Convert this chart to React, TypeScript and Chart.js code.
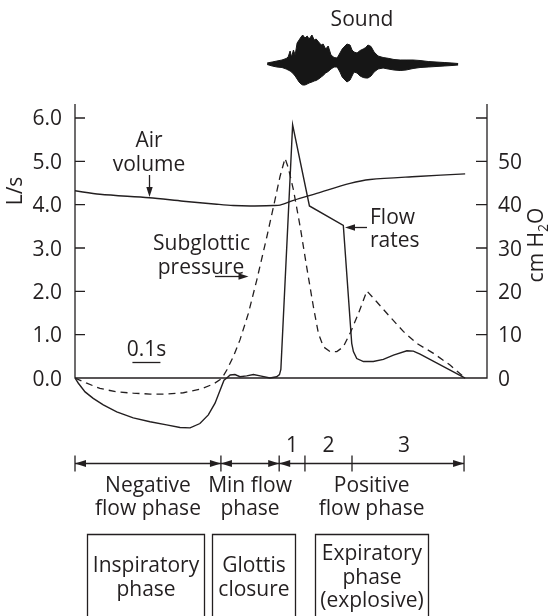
import React, { useEffect, useRef } from "react";
import { Chart, registerables } from "chart.js";

Chart.register(...registerables);

// ---------------- data (time in seconds) ----------------
const flowTime = [0, 0.012, 0.036, 0.065, 0.101, 0.149, 0.208, 0.268, 0.327, 0.375, 0.411, 0.446, 0.476, 0.5, 0.518, 0.532, 0.542, 0.554, 0.571, 0.589, 0.613, 0.637, 0.661, 0.696, 0.72, 0.73, 0.735, 0.777, 0.837, 0.958, 0.988, 0.994, 1.006, 1.03, 1.065, 1.101, 1.137, 1.185, 1.208, 1.232, 1.393];
const flowRate = [0, -0.12, -0.32, -0.47, -0.62, -0.78, -0.92, -1.01, -1.08, -1.14, -1.15, -1.05, -0.85, -0.58, -0.28, -0.05, 0, 0.07, 0.08, 0.03, 0.05, 0.08, 0.05, 0, 0.03, 0.08, 0.2, 5.84, 3.97, 3.52, 0.8, 0.61, 0.45, 0.38, 0.38, 0.43, 0.53, 0.63, 0.62, 0.55, 0];

const volumeTime = [0, 0.089, 0.265, 0.387, 0.506, 0.565, 0.625, 0.708, 0.732, 0.78, 0.863, 0.982, 1.054, 1.22, 1.393];
const airVolume = [4.32, 4.24, 4.16, 4.08, 4.01, 3.98, 3.97, 3.98, 3.99, 4.1, 4.26, 4.49, 4.58, 4.65, 4.71];

const pressureTime = [0, 0.042, 0.089, 0.149, 0.208, 0.268, 0.327, 0.387, 0.446, 0.494, 0.524, 0.542, 0.565, 0.589, 0.619, 0.649, 0.685, 0.714, 0.732, 0.75, 0.762, 0.78, 0.804, 0.827, 0.851, 0.869, 0.887, 0.911, 0.935, 0.958, 0.982, 1.012, 1.042, 1.077, 1.125, 1.173, 1.22, 1.28, 1.339, 1.393];
const subglotticPressure = [0, -1.2, -2.4, -3.2, -3.5, -3.7, -3.7, -3.4, -2.6, -1.4, -0.1, 1.85, 4.9, 8.8, 14.9, 22.6, 32.6, 41.1, 46.5, 50.7, 48.4, 43.4, 34.9, 25.7, 16.5, 10.3, 7.2, 6.1, 6.1, 7.2, 10.3, 14.9, 20.1, 17.6, 14.1, 10.7, 8.0, 5.7, 3.0, 0];

// sound envelope (amplitude, arbitrary units)
const soundTime = [0.686, 0.704, 0.721, 0.739, 0.754, 0.761, 0.768, 0.773, 0.78, 0.786, 0.793, 0.8, 0.807, 0.813, 0.821, 0.829, 0.836, 0.846, 0.854, 0.861, 0.87, 0.879, 0.886, 0.895, 0.904, 0.914, 0.925, 0.936, 0.946, 0.954, 0.964, 0.971, 0.982, 0.989, 0.996, 1.007, 1.018, 1.029, 1.038, 1.046, 1.057, 1.068, 1.082, 1.1, 1.118, 1.139, 1.161, 1.182, 1.207, 1.232, 1.261, 1.289, 1.318, 1.346, 1.368];
const soundUpper = [1, 2, 3, 4, 5.5, 7, 13, 7, 14, 9, 21, 24, 27, 29, 26, 28, 25, 29, 24, 25, 22, 19, 20, 15, 18, 9, 6.5, 6, 11, 15, 18, 20, 19, 14, 12, 11, 13.5, 15, 16.5, 19, 17.5, 12, 8, 6.5, 5.7, 4.5, 4, 4, 4, 3.5, 2.5, 2, 1.5, 1, 0.5];
const soundLower = [-0.5, -2, -3, -3.5, -5, -6, -7, -8, -10, -12, -15, -18, -20, -21, -21, -20, -19, -18, -17, -16.5, -15, -13, -11.5, -9, -7.5, -5, -3, -3, -8, -13, -16, -18, -16, -12, -8, -9, -12, -13.5, -14, -14, -12, -8, -5, -4, -5, -6, -6.5, -6, -4.5, -3.5, -3, -2.5, -2, -1.5, -1];

const leftTicks = [0, 1, 2, 3, 4, 5, 6];
const leftTickLabels = ["0.0", "1.0", "2.0", "3.0", "4.0", "5.0", "6.0"];
const rightTicks = [0, 10, 20, 30, 40, 50, 60];
const rightTickLabels = ["0", "10", "20", "30", "40", "50", ""];

const phaseBounds = [0, 0.521, 0.729, 0.821, 0.989, 1.389];
const phaseNumbers = ["1", "2", "3"];
const boxStart = [0.043, 0.489, 0.857];
const boxEnd = [0.461, 0.786, 1.261];
const boxLabels = [["Inspiratory", "phase"], ["Glottis", "closure"], ["Expiratory", "phase", "(explosive)"]];

const INK = "#231f20";
const FS = 21;
const FONT = `${FS}px "Open Sans", "Noto Sans", sans-serif`;
const SUBFONT = `14px "Open Sans", "Noto Sans", sans-serif`;

function head(ctx: CanvasRenderingContext2D, x: number, y: number, ang: number, len = 10, half = 3.2) {
  ctx.save();
  ctx.translate(x, y);
  ctx.rotate(ang);
  ctx.beginPath();
  ctx.moveTo(0, 0);
  ctx.lineTo(-len, -half);
  ctx.lineTo(-len, half);
  ctx.closePath();
  ctx.fill();
  ctx.restore();
}

const decor = {
  id: "decor",
  afterDatasetsDraw(chart: any) {
    const { ctx, scales } = chart;
    const X = (t: number) => scales.x.getPixelForValue(t);
    const Y = (v: number) => scales.y.getPixelForValue(v);
    const Y2 = (v: number) => scales.y2.getPixelForValue(v);
    ctx.save();
    ctx.strokeStyle = INK;
    ctx.fillStyle = INK;
    ctx.lineWidth = 1.3;
    ctx.font = FONT;

    // axes frame
    const xl = X(0), xr = X(scales.x.max);
    const yTop = Y(6.32), y0 = Y(0);
    ctx.beginPath();
    ctx.moveTo(xl, yTop);
    ctx.lineTo(xl, y0);
    ctx.lineTo(xr, y0);
    ctx.lineTo(xr, yTop);
    leftTicks.forEach((v) => { ctx.moveTo(xl, Y(v)); ctx.lineTo(xl + 10, Y(v)); });
    rightTicks.forEach((v) => { ctx.moveTo(xr, Y2(v)); ctx.lineTo(xr - 11, Y2(v)); });
    ctx.stroke();

    ctx.textBaseline = "alphabetic";
    ctx.textAlign = "right";
    leftTicks.forEach((v, i) => ctx.fillText(leftTickLabels[i], xl - 13, Y(v) + 7.5));
    ctx.textAlign = "left";
    rightTicks.forEach((v, i) => ctx.fillText(rightTickLabels[i], xr + 11, Y2(v) + 7.5));

    // axis titles
    ctx.save();
    ctx.translate(22, 191);
    ctx.rotate(-Math.PI / 2);
    ctx.textAlign = "center";
    ctx.fillText("L/s", 0, 0);
    ctx.restore();

    ctx.save();
    const w1 = ctx.measureText("cm H").width;
    const w3 = ctx.measureText("O").width;
    ctx.font = SUBFONT;
    const w2 = ctx.measureText("2").width;
    const total = w1 + w2 + w3;
    ctx.translate(543, 245 + total / 2);
    ctx.rotate(-Math.PI / 2);
    ctx.textAlign = "left";
    ctx.font = FONT;
    ctx.fillText("cm H", 0, 0);
    ctx.font = SUBFONT;
    ctx.fillText("2", w1, 5);
    ctx.font = FONT;
    ctx.fillText("O", w1 + w2, 0);
    ctx.restore();

    // Sound title
    ctx.textAlign = "center";
    ctx.fillText("Sound", 362, 26);

    // Air volume label + arrow
    ctx.fillText("Air", 149, 147);
    ctx.fillText("volume", 149, 170.5);
    ctx.beginPath();
    ctx.moveTo(149.5, 175);
    ctx.lineTo(149.5, 190);
    ctx.stroke();
    head(ctx, 149.5, 197, Math.PI / 2);

    // Subglottic pressure label + arrow
    ctx.fillText("Subglottic", 201.5, 250);
    ctx.fillText("pressure", 201, 273.5);
    ctx.beginPath();
    ctx.moveTo(215, 276.5);
    ctx.lineTo(241, 276.5);
    ctx.stroke();
    head(ctx, 248.5, 276.5, 0);

    // Flow rates label + arrow
    ctx.textAlign = "left";
    ctx.fillText("Flow", 370, 223.5);
    ctx.fillText("rates", 370, 247);
    ctx.beginPath();
    ctx.moveTo(367, 227.5);
    ctx.lineTo(352, 227.5);
    ctx.stroke();
    head(ctx, 345, 227.5, Math.PI);

    // 0.1 s scale bar
    ctx.textAlign = "center";
    ctx.fillText("0.1s", X(0.255), 356);
    ctx.beginPath();
    ctx.moveTo(X(0.205), 362.5);
    ctx.lineTo(X(0.305), 362.5);
    ctx.stroke();

    // phase line
    const yA = 463.5;
    const bx = phaseBounds.map(X);
    ctx.beginPath();
    ctx.moveTo(bx[0], yA);
    ctx.lineTo(bx[bx.length - 1], yA);
    bx.forEach((p) => { ctx.moveTo(p, yA - 8); ctx.lineTo(p, yA + 8); });
    ctx.stroke();
    head(ctx, bx[0], yA, Math.PI, 11, 3.5);
    head(ctx, bx[1], yA, 0, 11, 3.5);
    head(ctx, bx[1], yA, Math.PI, 11, 3.5);
    head(ctx, bx[2], yA, 0, 11, 3.5);
    head(ctx, bx[2], yA, Math.PI, 11, 3.5);
    head(ctx, bx[5], yA, 0, 11, 3.5);

    phaseNumbers.forEach((s, i) => {
      const c = (bx[i + 2] + bx[i + 3]) / 2;
      ctx.fillText(s, i === 2 ? c - 4 : c, 452);
    });
    const negC = (bx[0] + bx[1]) / 2;
    const minC = (bx[1] + bx[2]) / 2;
    const posC = (bx[2] + bx[5]) / 2;
    ctx.fillText("Negative", negC, 491.5);
    ctx.fillText("flow phase", negC, 515);
    ctx.fillText("Min flow", minC, 491.5);
    ctx.fillText("phase", minC, 515);
    ctx.fillText("Positive", posC, 491.5);
    ctx.fillText("flow phase", posC, 515);

    // boxes
    const boxTop = 534.5;
    boxStart.forEach((s, i) => {
      const a = Math.round(X(s)) + 0.5;
      const b = Math.round(X(boxEnd[i])) + 0.5;
      ctx.beginPath();
      ctx.moveTo(a, 620);
      ctx.lineTo(a, boxTop);
      ctx.lineTo(b, boxTop);
      ctx.lineTo(b, 620);
      ctx.stroke();
      const c = (a + b) / 2;
      const lines = boxLabels[i];
      const startY = lines.length === 3 ? 560 : 572;
      lines.forEach((t, j) => ctx.fillText(t, c, startY + j * 23.5));
    });

    ctx.restore();
  },
};

export default function App() {
  const ref = useRef<HTMLCanvasElement | null>(null);
  useEffect(() => {
    if (!ref.current) return;
    const pts = (xs: number[], ys: number[]) => xs.map((x, i) => ({ x, y: ys[i] }));
    const chart = new Chart(ref.current, {
      type: "line",
      data: {
        datasets: [
          { label: "Flow rates", data: pts(flowTime, flowRate), yAxisID: "y", borderColor: INK, borderWidth: 1.4, fill: false },
          { label: "Air volume", data: pts(volumeTime, airVolume), yAxisID: "y", borderColor: INK, borderWidth: 1.4, fill: false, tension: 0.3 },
          { label: "Subglottic pressure", data: pts(pressureTime, subglotticPressure), yAxisID: "y2", borderColor: INK, borderWidth: 1.3, borderDash: [7, 5], fill: false },
          { label: "Sound", data: pts(soundTime, soundUpper), yAxisID: "ySound", borderColor: "#161616", backgroundColor: "#161616", borderWidth: 1, fill: "+1" },
          { label: "Sound low", data: pts(soundTime, soundLower), yAxisID: "ySound", borderColor: "#161616", borderWidth: 1, fill: false },
        ] as any,
      },
      options: {
        responsive: false,
        animation: false,
        devicePixelRatio: 1,
        layout: { padding: { left: 75, right: 63, top: 30, bottom: 183.8 } },
        plugins: { legend: { display: false }, tooltip: { enabled: false } },
        elements: { point: { radius: 0 }, line: { tension: 0 } },
        scales: {
          x: { type: "linear", min: 0, max: 1.471, display: false, bounds: "data" },
          y: { type: "linear", min: -1.25, max: 8.03, display: false, bounds: "data" },
          y2: { type: "linear", min: -12.5, max: 80.3, display: false, bounds: "data" },
          ySound: { type: "linear", min: -368.2, max: 34, display: false, bounds: "data" },
        },
      } as any,
      plugins: [decor],
    });
    return () => chart.destroy();
  }, []);
  return (
    <div style={{ position: "absolute", left: 0, top: 0, width: 550, height: 616, background: "#fff" }}>
      <canvas ref={ref} width={550} height={616} style={{ width: 550, height: 616, display: "block" }} />
    </div>
  );
}
